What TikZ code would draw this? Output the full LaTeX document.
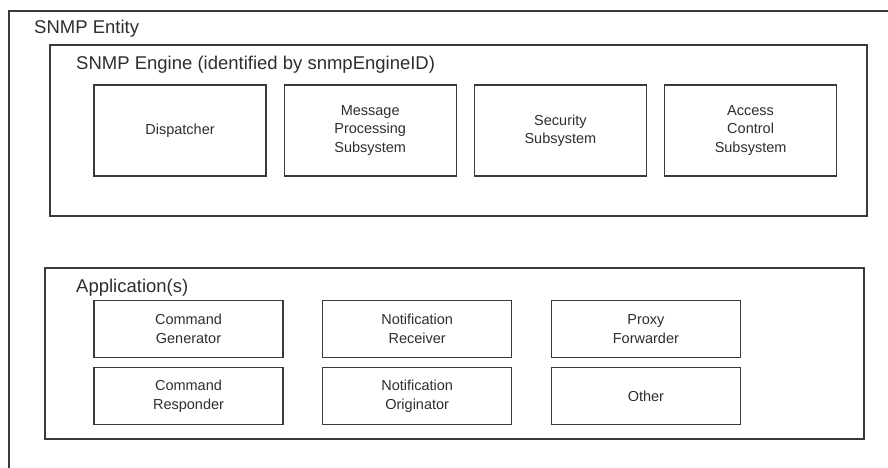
\documentclass[tikz,border=0pt]{standalone}
\usepackage{fontspec}
\setmainfont{Liberation Sans}
\usepackage{tikz}
\usetikzlibrary{positioning}
\definecolor{edge}{HTML}{3A3A3A}
\definecolor{ink}{HTML}{2E2E2E}

\begin{document}
\begin{tikzpicture}[
    x=1pt, y=-1pt,
    every node/.style={text=ink},
    frame/.style={draw=edge, line width=1.2pt},
    unit/.style={
      draw=edge, line width=1.2pt, align=center,
      minimum width=172pt, minimum height=91pt, inner sep=0pt,
      font=\fontsize{14.5}{18.5}\selectfont
    },
    appbox/.style={unit, minimum width=189pt, minimum height=57pt},
    title/.style={anchor=base west, inner sep=0pt, font=\fontsize{18.5}{22}\selectfont}
]
  \useasboundingbox (0,0) rectangle (888,467);

  % outer entity, runs off the page right and below
  \begin{scope}
    \clip (0,0) rectangle (888,467);
    \draw[frame] (9,11) rectangle (896,476);
  \end{scope}
  \node[title] (entity) at (34,33) {SNMP Entity};

  % engine
  \draw[frame] (50,45) rectangle (867,216);
  \node[title] (engine) at (76,69) {SNMP Engine (identified by snmpEngineID)};

  \node[unit] (disp) at (180,130.5) {Dispatcher};
  \node[unit, right=17pt of disp] (mps) {Message\\Processing\\Subsystem};
  \node[unit, right=17pt of mps] (sec) {Security\\Subsystem};
  \node[unit, right=17pt of sec] (acs) {Access\\Control\\Subsystem};

  % applications
  \draw[frame] (45,268) rectangle (864,439);
  \node[title] (apps) at (76,292) {Application(s)};

  \node[appbox] (cmdgen) at (188.5,329) {Command\\Generator};
  \node[appbox, below=9pt of cmdgen] (cmdrsp) {Command\\Responder};
  \node[appbox, right=38.5pt of cmdgen] (notrcv) {Notification\\Receiver};
  \node[appbox, below=9pt of notrcv] (notorg) {Notification\\Originator};
  \node[appbox, right=38.5pt of notrcv] (proxy) {Proxy\\Forwarder};
  \node[appbox, below=9pt of proxy] (other) {Other};
\end{tikzpicture}
\end{document}
